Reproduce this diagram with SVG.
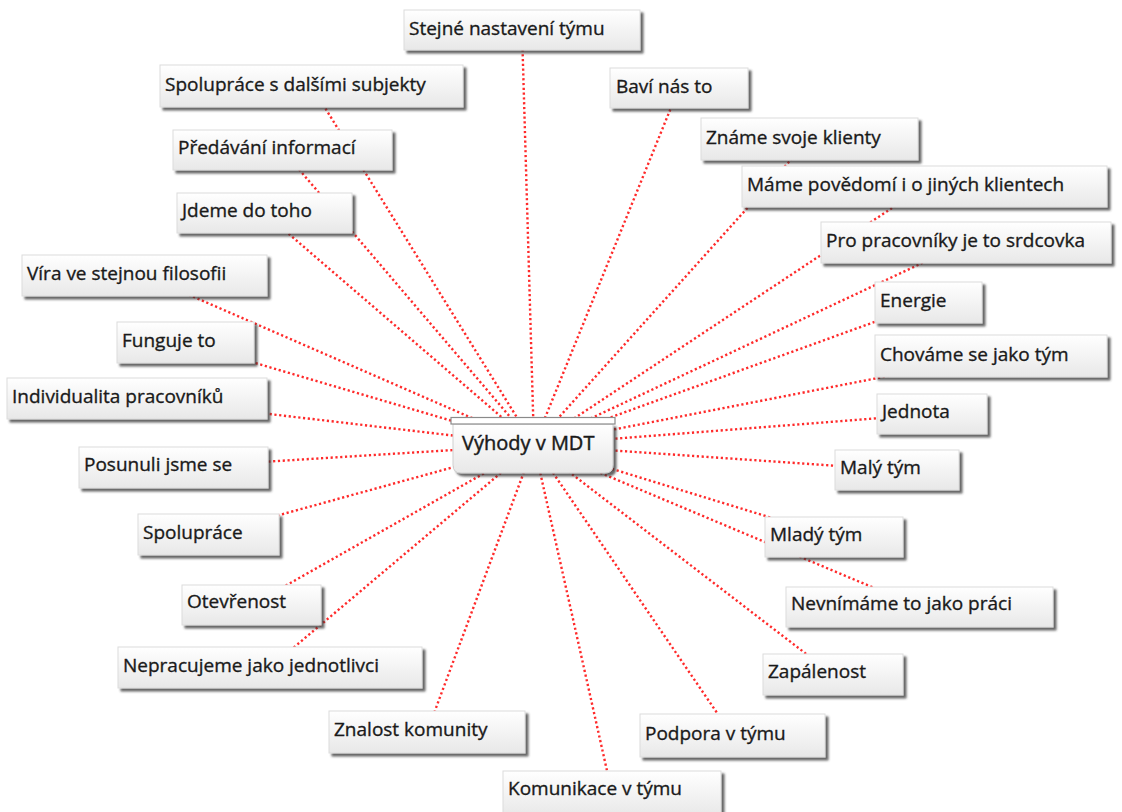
<svg xmlns="http://www.w3.org/2000/svg" width="1122" height="812" viewBox="0 0 1122 812">
<style>
.lnk{stroke:#ff2a2a;stroke-width:2.4;stroke-dasharray:2.2 2.6;fill:none}
.box{fill:url(#g);stroke:#dcdcdc;stroke-width:1;filter:url(#sh)}
.t{font-family:"Open Sans","Liberation Sans",sans-serif;font-size:19px;fill:#1a1a1a;stroke:#1a1a1a;stroke-width:0.35}
.tc{font-family:"Open Sans","Liberation Sans",sans-serif;font-size:20px;fill:#1a1a1a;stroke:#1a1a1a;stroke-width:0.45}
</style>
<defs>
<linearGradient id="g" x1="0" y1="0" x2="0" y2="1">
<stop offset="0" stop-color="#ffffff"/>
<stop offset="1" stop-color="#e8e8e8"/>
</linearGradient>
<filter id="sh" x="-10%" y="-20%" width="130%" height="160%">
<feDropShadow dx="3" dy="3" stdDeviation="1.1" flood-color="#333" flood-opacity="0.75"/>
</filter>
</defs>
<rect width="1122" height="812" fill="#fff"/>
<g id="connectors">
<line class="lnk" x1="534" y1="445" x2="522" y2="30"/>
<line class="lnk" x1="534" y1="445" x2="311.5" y2="86"/>
<line class="lnk" x1="534" y1="445" x2="679" y2="88"/>
<line class="lnk" x1="534" y1="445" x2="809.5" y2="139"/>
<line class="lnk" x1="534" y1="445" x2="282.5" y2="150"/>
<line class="lnk" x1="534" y1="445" x2="924.5" y2="186.5"/>
<line class="lnk" x1="534" y1="445" x2="264.5" y2="213"/>
<line class="lnk" x1="534" y1="445" x2="966" y2="242.5"/>
<line class="lnk" x1="534" y1="445" x2="144.5" y2="275.5"/>
<line class="lnk" x1="534" y1="445" x2="928.5" y2="302.5"/>
<line class="lnk" x1="534" y1="445" x2="185.5" y2="342.5"/>
<line class="lnk" x1="534" y1="445" x2="991" y2="356"/>
<line class="lnk" x1="534" y1="445" x2="137" y2="398.5"/>
<line class="lnk" x1="534" y1="445" x2="932" y2="414"/>
<line class="lnk" x1="534" y1="445" x2="173.5" y2="467.5"/>
<line class="lnk" x1="534" y1="445" x2="897" y2="470"/>
<line class="lnk" x1="534" y1="445" x2="208.5" y2="534.5"/>
<line class="lnk" x1="534" y1="445" x2="834" y2="537"/>
<line class="lnk" x1="534" y1="445" x2="251.5" y2="605"/>
<line class="lnk" x1="534" y1="445" x2="919.5" y2="607"/>
<line class="lnk" x1="534" y1="445" x2="270" y2="667.5"/>
<line class="lnk" x1="534" y1="445" x2="833" y2="674.5"/>
<line class="lnk" x1="534" y1="445" x2="427" y2="732"/>
<line class="lnk" x1="534" y1="445" x2="732.5" y2="735.5"/>
<line class="lnk" x1="534" y1="445" x2="612" y2="793"/>
</g>
<g id="n1"><rect class="box" x="404" y="10" width="236" height="40"/><text class="t" x="409" y="35">Stejné nastavení týmu</text></g>
<g id="n2"><rect class="box" x="160" y="65" width="303" height="42"/><text class="t" x="165" y="91">Spolupráce s dalšími subjekty</text></g>
<g id="n3"><rect class="box" x="610" y="68" width="138" height="40"/><text class="t" x="616" y="93">Baví nás to</text></g>
<g id="n4"><rect class="box" x="701" y="118" width="217" height="42"/><text class="t" x="706" y="144">Známe svoje klienty</text></g>
<g id="n5"><rect class="box" x="173" y="130" width="219" height="40"/><text class="t" x="178" y="154">Předávání informací</text></g>
<g id="n6"><rect class="box" x="742" y="166" width="365" height="41"/><text class="t" x="747" y="191">Máme povědomí i o jiných klientech</text></g>
<g id="n7"><rect class="box" x="177" y="193" width="175" height="40"/><text class="t" x="182" y="217">Jdeme do toho</text></g>
<g id="n8"><rect class="box" x="821" y="222" width="290" height="41"/><text class="t" x="826" y="247">Pro pracovníky je to srdcovka</text></g>
<g id="n9"><rect class="box" x="22" y="255" width="245" height="41"/><text class="t" x="27" y="280">Víra ve stejnou filosofii</text></g>
<g id="n10"><rect class="box" x="875" y="282" width="107" height="41"/><text class="t" x="880" y="307">Energie</text></g>
<g id="n11"><rect class="box" x="117" y="322" width="137" height="41"/><text class="t" x="122" y="347">Funguje to</text></g>
<g id="n12"><rect class="box" x="875" y="335" width="232" height="42"/><text class="t" x="880" y="361">Chováme se jako tým</text></g>
<g id="n13"><rect class="box" x="7" y="378" width="260" height="41"/><text class="t" x="12" y="403">Individualita pracovníků</text></g>
<g id="n14"><rect class="box" x="877" y="394" width="110" height="40"/><text class="t" x="882" y="418">Jednota</text></g>
<g id="n15"><rect class="box" x="79" y="447" width="189" height="41"/><text class="t" x="84" y="471">Posunuli jsme se</text></g>
<g id="n16"><rect class="box" x="835" y="450" width="124" height="40"/><text class="t" x="840" y="474">Malý tým</text></g>
<g id="n17"><rect class="box" x="138" y="514" width="141" height="41"/><text class="t" x="143" y="539">Spolupráce</text></g>
<g id="n18"><rect class="box" x="765" y="517" width="138" height="40"/><text class="t" x="770" y="541">Mladý tým</text></g>
<g id="n19"><rect class="box" x="182" y="585" width="139" height="40"/><text class="t" x="187" y="608">Otevřenost</text></g>
<g id="n20"><rect class="box" x="786" y="587" width="267" height="40"/><text class="t" x="791" y="610">Nevnímáme to jako práci</text></g>
<g id="n21"><rect class="box" x="118" y="647" width="304" height="41"/><text class="t" x="123" y="672">Nepracujeme jako jednotlivci</text></g>
<g id="n22"><rect class="box" x="763" y="654" width="140" height="41"/><text class="t" x="768" y="678">Zapálenost</text></g>
<g id="n23"><rect class="box" x="329" y="711" width="196" height="42"/><text class="t" x="334" y="736">Znalost komunity</text></g>
<g id="n24"><rect class="box" x="640" y="714" width="185" height="43"/><text class="t" x="645" y="740">Podpora v týmu</text></g>
<g id="n25"><rect class="box" x="503" y="771" width="218" height="45"/><text class="t" x="508" y="795">Komunikace v týmu</text></g>
<g id="center">
<path d="M453 424 H613 V465 Q613 473 605 473 H461 Q453 473 453 465 Z" fill="url(#g)" stroke="#cfcfcf" filter="url(#sh)"/>
<rect x="451" y="417.5" width="164" height="6.5" fill="#fff" stroke="#8a8a8a" stroke-width="1.2"/>
<text class="tc" x="462" y="450">Výhody v MDT</text>
</g>
</svg>
